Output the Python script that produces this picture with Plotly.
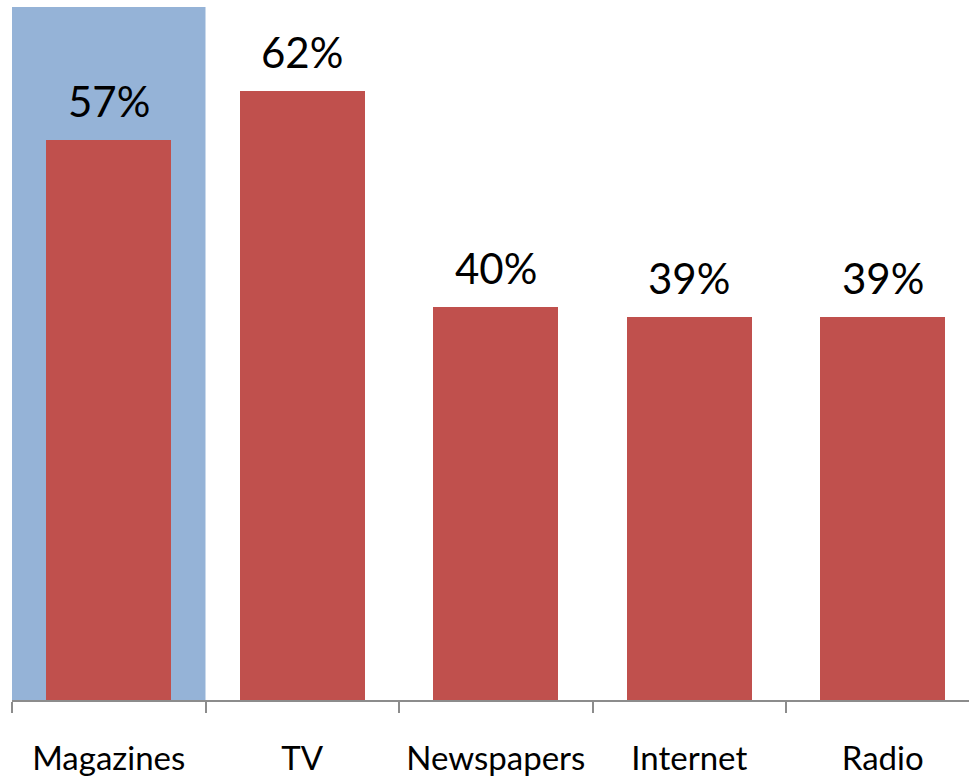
import plotly.graph_objects as go

# Share of respondents per media channel
categories = ["Magazines", "TV", "Newspapers", "Internet", "Radio"]
shares = [0.57, 0.62, 0.40, 0.39, 0.39]
highlighted = "Magazines"

BAR_RED = "#C0504D"
HIGHLIGHT_BLUE = "#95B3D7"
AXIS_GREY = "#8C8C8C"
FONT = "Lato"

fig = go.Figure()

fig.add_trace(go.Bar(
    x=categories,
    y=shares,
    width=0.645,
    marker=dict(color=BAR_RED, line=dict(width=0)),
    hoverinfo="skip",
))

# value labels above each bar
for cat, v in zip(categories, shares):
    fig.add_annotation(
        x=cat, y=v, xref="x", yref="y",
        text=f"{round(v * 100)}%",
        showarrow=False, yanchor="bottom", yshift=12,
        font=dict(family=FONT, size=42, color="#000000"),
    )

# shaded background behind the highlighted category
h = categories.index(highlighted)
fig.add_shape(
    type="rect", xref="x", yref="paper",
    x0=h - 0.5, x1=h + 0.5, y0=0, y1=1,
    fillcolor=HIGHLIGHT_BLUE, line=dict(width=0), layer="below",
)

fig.update_layout(
    width=969, height=779,
    margin=dict(l=12, r=0, t=7, b=79, autoexpand=False),
    paper_bgcolor="white", plot_bgcolor="white",
    showlegend=False,
    bargap=0,
)

fig.update_xaxes(
    type="category",
    categoryorder="array", categoryarray=categories,
    range=[-0.5, -0.5 + 957 / 193.5],
    showline=True, linecolor=AXIS_GREY, linewidth=2,
    ticks="outside", ticklen=11, tickwidth=2, tickcolor=AXIS_GREY,
    tickson="boundaries",
    showgrid=False, zeroline=False,
    tickangle=0, automargin=False,
    tickfont=dict(family=FONT, size=33, color="#000000"),
    ticklabelstandoff=28,
)

fig.update_yaxes(
    range=[0, 693 / 982.6],
    visible=False, showgrid=False, zeroline=False,
)

fig.write_html("out.html")
